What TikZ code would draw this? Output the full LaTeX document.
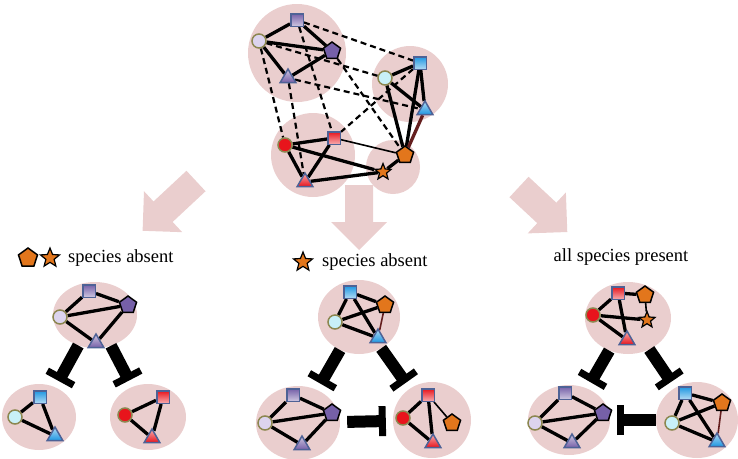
\documentclass[tikz,border=0pt]{standalone}
\usepackage{fontspec}
\setmainfont{Liberation Serif}
\usetikzlibrary{arrows.meta}
\usetikzlibrary{shapes.geometric}

\pgfdeclarelayer{blobs}
\pgfdeclarelayer{edges}
\pgfsetlayers{blobs,edges,main}

\definecolor{blob}{RGB}{234,206,206}
\definecolor{purp}{RGB}{118,96,168}
\definecolor{lav}{RGB}{220,212,238}
\definecolor{blu}{RGB}{30,150,225}
\definecolor{cyn}{RGB}{200,240,248}
\definecolor{rd}{RGB}{232,20,28}
\definecolor{org}{RGB}{226,118,28}
\definecolor{slate}{RGB}{78,98,150}
\definecolor{olive}{RGB}{140,135,80}
\definecolor{dred}{RGB}{100,30,30}

\begin{document}
\begin{tikzpicture}[x=1pt,y=-1pt,
  sqnode/.style={rectangle,draw=slate,line width=1.5pt,top color=#1,bottom color=#1!35!white,minimum size=12.5pt,inner sep=0pt},
  cnode/.style={circle,draw=olive,line width=1.5pt,fill=#1,minimum size=14pt,inner sep=0pt},
  tnode/.style={regular polygon,regular polygon sides=3,draw=slate,line width=1.5pt,top color=#1!35!white,bottom color=#1,minimum size=18pt,inner sep=0pt},
  pnode/.style={regular polygon,regular polygon sides=5,draw=black,line width=1.5pt,fill=#1,minimum size=18pt,inner sep=0pt},
  snode/.style={shape=star,star points=5,star point ratio=2.3,draw=black,line width=1.2pt,fill=org,minimum size=17pt,inner sep=0pt},
  blobnode/.style={ellipse,fill=blob,inner sep=0pt},
  link/.style={line width=3.3pt},
  thin link/.style={line width=1.6pt},
  dlink/.style={line width=2.2pt,dash pattern=on 6pt off 4pt},
  inhib/.style={line width=12pt,-{Bar[width=30pt,line width=7pt]},shorten >=7pt},
  lab/.style={font=\fontsize{18.5}{21}\selectfont,anchor=west,inner sep=0pt}
]
\useasboundingbox (0,0) rectangle (738,458);

% pink blobs
\begin{pgfonlayer}{blobs}
\fill[blob] (297,53) circle[radius=49];
\fill[blob] (410,84) circle[radius=38];
\fill[blob] (313,155) circle[radius=42];
\fill[blob] (393,167) circle[radius=27];
\node[blobnode,minimum width=84pt,minimum height=66pt] (L0) at (95,315) {};
\node[blobnode,minimum width=74pt,minimum height=66pt] (L1) at (39,417) {};
\node[blobnode,minimum width=76pt,minimum height=66pt] (L2) at (148,417) {};
\node[blobnode,minimum width=82pt,minimum height=74pt] (M0) at (359,317) {};
\node[blobnode,minimum width=84pt,minimum height=74pt] (M1) at (298,423) {};
\node[blobnode,minimum width=78pt,minimum height=76pt] (M2) at (432,420) {};
\node[blobnode,minimum width=86pt,minimum height=72pt] (N0) at (628,318) {};
\node[blobnode,minimum width=82pt,minimum height=70pt] (N1) at (569,420) {};
\node[blobnode,minimum width=82pt,minimum height=76pt] (N2) at (697,420) {};
\end{pgfonlayer}

% big arrows
\foreach \x/\y/\a/\l in {196/181/-137/73, 359/185/-90/65, 519/187/-43/66}
  \fill[blob,shift={(\x,\y)},rotate=\a] (0,-14) -- (\l-28,-14) -- (\l-28,-28) -- (\l,0) -- (\l-28,28) -- (\l-28,14) -- (0,14) -- cycle;

% full network
\node[sqnode=purp] (tPs) at (297,20) {};
\node[cnode=lav] (tPc) at (259,41) {};
\node[pnode=purp] (tPp) at (332,51) {};
\node[tnode=purp] (tPt) at (288,78) {};
\node[sqnode=blu] (tBs) at (420,63) {};
\node[cnode=cyn] (tBc) at (385,78) {};
\node[tnode=blu] (tBt) at (425,110) {};
\node[cnode=rd] (tRc) at (285,145) {};
\node[sqnode=rd] (tRs) at (334,138) {};
\node[tnode=rd] (tRt) at (305,182) {};
\node[pnode=org] (tOp) at (405,155) {};
\node[snode] (tOs) at (383,172) {};

% subnetworks
\node[sqnode=purp] (L0s) at (89,291) {};
\node[pnode=purp] (L0p) at (128,305) {};
\node[cnode=lav] (L0c) at (60,317) {};
\node[tnode=purp] (L0t) at (96,343) {};
\node[sqnode=blu] (L1s) at (40,397) {};
\node[cnode=cyn] (L1c) at (15,417) {};
\node[tnode=blu] (L1t) at (55,436) {};
\node[sqnode=rd] (L2s) at (163,397) {};
\node[cnode=rd] (L2c) at (125,415) {};
\node[tnode=rd] (L2t) at (152,438) {};

\node[sqnode=blu] (M0s) at (350,292) {};
\node[pnode=org] (M0p) at (385,305) {};
\node[cnode=cyn] (M0c) at (335,322) {};
\node[tnode=blu] (M0t) at (378,338) {};
\node[sqnode=purp] (M1s) at (293,395) {};
\node[pnode=purp] (M1p) at (332,413) {};
\node[cnode=lav] (M1c) at (265,423) {};
\node[tnode=purp] (M1t) at (302,445) {};
\node[sqnode=rd] (M2s) at (428,395) {};
\node[cnode=rd] (M2c) at (403,418) {};
\node[tnode=rd] (M2t) at (433,443) {};
\node[pnode=org] (M2p) at (452,423) {};

\node[sqnode=rd] (N0s) at (618,293) {};
\node[pnode=org] (N0p) at (645,295) {};
\node[cnode=rd] (N0c) at (593,315) {};
\node[snode] (N0x) at (647,320) {};
\node[tnode=rd] (N0t) at (627,340) {};
\node[sqnode=purp] (N1s) at (565,393) {};
\node[pnode=purp] (N1p) at (603,413) {};
\node[cnode=lav] (N1c) at (535,423) {};
\node[tnode=purp] (N1t) at (572,443) {};
\node[sqnode=blu] (N2s) at (685,393) {};
\node[pnode=org] (N2p) at (722,403) {};
\node[cnode=cyn] (N2c) at (672,423) {};
\node[tnode=blu] (N2t) at (717,442) {};

% edges
\begin{pgfonlayer}{edges}
\foreach \a/\b in {tPs/tPc,tPs/tPp,tPc/tPp,tPc/tPt,tPp/tPt,tBs/tBc,tBs/tBt,tBc/tBt,tBs/tOp,tBc/tOp,
  tRc/tRs,tRc/tRt,tRs/tRt,tRc/tOs,tRt/tOs,tOs/tOp} \draw[link] (\a) -- (\b);
\draw[link,draw=dred] (tBt) -- (tOp);
\draw[thin link] (tRs) -- (tOp);
\foreach \a/\b in {tPs/tBs,tPc/tBc,tPt/tBt,tPp/tOp,tPs/tRs,tPc/tRc,tPt/tRt,tBs/tRs} \draw[dlink] (\a) -- (\b);

\foreach \g in {L0,M1,N1} \foreach \a/\b in {s/c,s/p,c/p,c/t,p/t} \draw[link] (\g\a) -- (\g\b);
\foreach \g in {L1,L2,M2} \foreach \a/\b in {s/c,s/t,c/t} \draw[link] (\g\a) -- (\g\b);
\draw[thin link] (M2s) -- (M2p);
\foreach \g in {M0,N2} {
  \foreach \a/\b in {s/c,s/p,s/t,c/p,c/t} \draw[link] (\g\a) -- (\g\b);
  \draw[thin link,draw=dred] (\g p) -- (\g t);
}
\foreach \a/\b in {s/c,s/p,s/t,c/x,c/t} \draw[link] (N0\a) -- (N0\b);
\draw[thin link] (N0p) -- (N0x);
\end{pgfonlayer}

% inhibition
\draw[inhib] (L0) -- (L1);
\draw[inhib] (L0) -- (L2);
\draw[inhib] (M0) -- (M1);
\draw[inhib] (M0) -- (M2);
\draw[inhib,shorten <=7pt] (M1) -- (M2);
\draw[inhib] (N0) -- (N1);
\draw[inhib] (N0) -- (N2);
\draw[inhib] (N2) -- (N1);

% labels
\node[pnode=org,minimum size=20pt] (icoP) at (28,258) {};
\node[snode,minimum size=20pt] (icoS) at (50,258) {};
\node[lab] (labL) at (68,258) {species absent};
\node[snode,minimum size=20pt] (icoM) at (303,262) {};
\node[lab] (labM) at (322,262) {species absent};
\node[lab,anchor=center] (labN) at (621,257) {all species present};
\end{tikzpicture}
\end{document}
